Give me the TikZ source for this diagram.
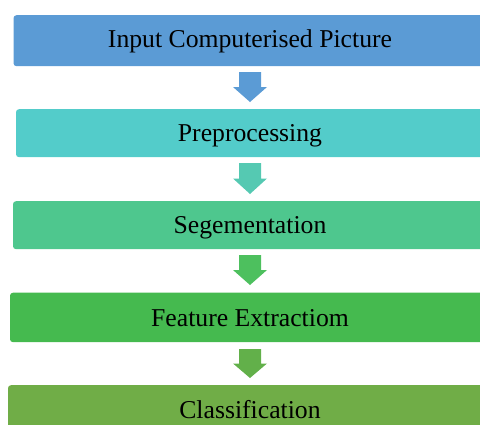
\documentclass[tikz,border=0pt]{standalone}
\usepackage{fontspec}
\setmainfont{Liberation Serif}
\usetikzlibrary{calc}
\definecolor{cA}{HTML}{5B9BD5}
\definecolor{cB}{HTML}{53CCCA}
\definecolor{cC}{HTML}{4EC78E}
\definecolor{cD}{HTML}{45BA4F}
\definecolor{cE}{HTML}{70AD47}
\definecolor{aB}{HTML}{55C9B2}
\definecolor{aC}{HTML}{4DC05E}
\definecolor{aD}{HTML}{62B04A}
\tikzset{
  stagebox/.style={rounded corners=3pt, inner sep=0pt, text=black,
    font=\fontsize{25.7}{28}\selectfont, anchor=north},
}
\newcommand{\lowertext}[2]{\raisebox{-#1}{\smash{#2}}\vphantom{#2}}
\newcommand{\downarrowshape}[3]{%
  % #1 colour, #2 top y, #3 tip y
  \fill[#1] (239,#2) -- (261,#2) -- (261,{#2+(#3-#2)/2}) -- (267,{#2+(#3-#2)/2})
    -- (250,#3) -- (233,{#2+(#3-#2)/2}) -- (239,{#2+(#3-#2)/2}) -- cycle;}
\begin{document}
\begin{tikzpicture}[x=1pt,y=-1pt]
\useasboundingbox (0,0) rectangle (480,424);
\clip (0,0) rectangle (480,424);
\node[stagebox, fill=cA, minimum width=473pt, minimum height=51pt] (b1) at (250,15) {\lowertext{1pt}{Input Computerised Picture}};
\node[stagebox, fill=cB, minimum width=468pt, minimum height=48pt] (b2) at (250,109) {\lowertext{2.5pt}{Preprocessing}};
\node[stagebox, fill=cC, minimum width=474pt, minimum height=48pt] (b3) at (250,201) {\lowertext{2.5pt}{Segementation}};
\node[stagebox, fill=cD, minimum width=480pt, minimum height=49.5pt] (b4) at (250,292.5) {\lowertext{1pt}{Feature Extractiom}};
\node[stagebox, fill=cE, minimum width=484pt, minimum height=48pt] (b5) at (250,385) {Classification};
\downarrowshape{cA}{72}{102}
\downarrowshape{aB}{163}{194}
\downarrowshape{aC}{255}{285}
\downarrowshape{aD}{349}{378}
\end{tikzpicture}
\end{document}
